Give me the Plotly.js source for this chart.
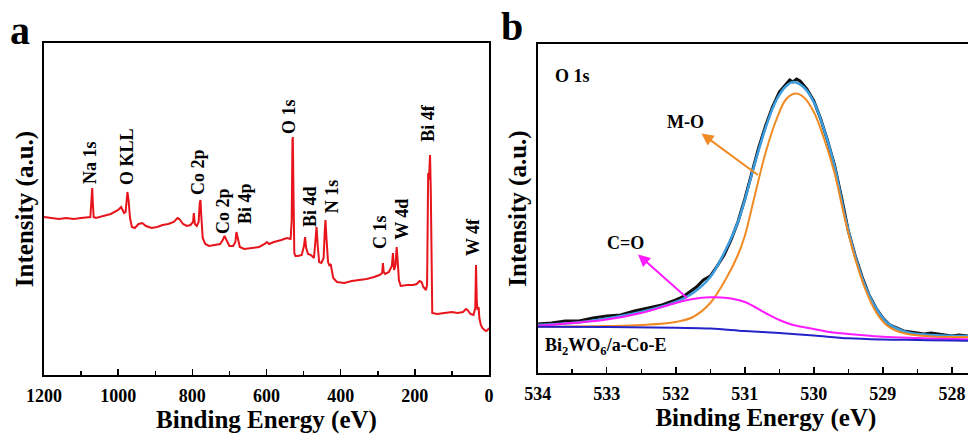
<!DOCTYPE html>
<html>
<head>
<meta charset="utf-8">
<script src="https://cdn.plot.ly/plotly-3.0.1.min.js"></script>
<style>
html,body{margin:0;padding:0;background:#fff;overflow:hidden;width:968px;height:437px;}
#chart{width:994px;height:437px;}
</style>
</head>
<body>
<div id="chart"></div>
<script>
// ---------- Panel a: XPS survey ----------
const surveyEnergy = [1200,1180,1160,1140,1120,1100,1085,1075,1072,1070,1068,1066,1060,1040,1020,1000,992,988,984,980,977,975,972,968,963,955,945,935,925,910,895,880,865,850,840,835,825,815,805,798,796,793,788,783,780,778,776,772,765,755,740,725,718,713,708,700,690,684,681,678,672,660,640,620,605,599,593,580,560,545,535,532,530,529,527,525,522,515,505,499,496,493,488,480,472,467,465,462,458,452,446,443,441,438,434,430,427,425,420,410,390,370,350,330,310,295,288,286,284,280,270,262,259,256,252,249,246,243,238,220,205,195,187,182,177,170,167,165,164,162,160,159,157,155,153,140,120,100,85,70,62,58,50,42,37,35,33,31,28,26,22,18,12,8,4,2,0];
const surveyIntensity = [158,157,156,157,156,157,158,158,175,187,170,158,157,159,161,165,168,165,162,163,180,183,175,157,148,147,151,152,149,147,148,150,151,153,157,156,151,149,150,153,162,151,149,153,172,175,160,137,131,129,130,131,135,139,135,129,129,133,143,137,128,126,127,128,131,133,131,133,135,137,136,155,235,238,175,122,119,119,120,129,138,127,121,120,117,140,148,130,113,112,117,143,155,135,113,109,111,107,97,93,92,94,95,96,98,100,102,112,103,101,103,109,122,105,110,128,113,95,89,90,90,91,94,93,88,85,90,195,202,195,217,220,185,85,62,61,62,63,62,63,66,65,61,60,67,110,75,65,68,57,50,47,45,44,45,47,47];

const peakNames = ["Na 1s","O KLL","Co 2p","Co 2p","Bi 4p","O 1s","Bi 4d","N 1s","C 1s","W 4d","Bi 4f","W 4f"];
const peakLabelEnergy = [1076,976,785,717,658,539,483,423,294,235,165,43];
const peakLabelHeight = [213,218,203,164,172,258,169,179,143,156,252,138];

// ---------- Panel b: O 1s high resolution ----------
const o1sRawEnergy = [534,533.8,533.6,533.4,533.2,533,532.8,532.6,532.4,532.2,532,531.9,531.8,531.7,531.6,531.5,531.4,531.3,531.2,531.1,531.0,530.9,530.8,530.7,530.6,530.5,530.4,530.35,530.3,530.25,530.2,530.1,530.0,529.9,529.8,529.7,529.6,529.5,529.4,529.3,529.2,529.1,529.0,528.9,528.8,528.7,528.6,528.4,528.3,528.2,528.0,527.9,527.76,527.6,527.4];
const o1sRaw = [49,50,52,52,55,57,58,62,65,68,73,76,81,86,93,97,107,118,133,151,174,199,225,247,266,281,289,293,291,294,292,284,272,254,232,208,176,142,117,96,78,65,55,48,45,42,41,39,40,39,37,38,37,37,36];

const envEnergy = [534,533.5,533,532.5,532,531.75,531.5,531.25,531.1,531,530.85,530.7,530.55,530.4,530.3,530.15,530,529.85,529.7,529.55,529.4,529.25,529.1,528.95,528.8,528.6,528.3,528,527.7,527.4];
const envelope = [48,50,54.5,61,71,80,96,127,151,173,211,245,272,287,291,286,271,243,207,157,117,86,65,51,44.5,40,38,37,37,36.5];

const moEnergy = [534,533,532.5,532,531.75,531.5,531.25,531.1,531,530.85,530.7,530.55,530.4,530.27,530.15,530,529.85,529.7,529.55,529.4,529.25,529.1,528.95,528.8,528.6,528.3,528,527.7,527.4];
const moFit = [46.3,47,48,51,56,70,97,118,137,179,220,252,274,279.5,276,261,234,200,154,114,83,61,48,42,38.5,36.5,36,36,36];

const coEnergy = [534,533.5,533,532.5,532,531.75,531.5,531.25,531,530.7,530.5,530.3,530,529.8,529.5,529,528.5,528,527.7,527.4];
const coFit = [47.3,50,53.5,60,70,74,75.7,75,71,60,53,48,44,41.3,39,36.3,35,34,33.7,33.5];

const bgEnergy = [534,533,532,531.5,531,530.5,530,529.5,529,528.5,528,527.7,527.4];
const background = [46.3,46,45.2,44.5,42,40,37.5,34.7,33.5,33,32.5,32.3,32.2];

const xTicksA = [1200,1000,800,600,400,200,0];
const xTicksB = [534,533,532,531,530,529,528];

// ---------- styles ----------
// The original figure is cropped on the right: panel b continues past the picture edge,
// so the plot is laid out slightly wider than the 968 px window and the overflow is hidden.
const W = 994, H = 437;
const SERIF = "Liberation Serif, Times New Roman, serif";
const boldFont = (size, color) => ({family: SERIF, size: size, color: color || "#000", weight: "bold"});
const ORANGE = "#f08a24", MAGENTA = "#ff1aff";

const traces = [
  {x: surveyEnergy, y: surveyIntensity, xaxis: "x", yaxis: "y", mode: "lines",
   line: {color: "#e8141c", width: 2}, hoverinfo: "skip"},
  {x: o1sRawEnergy, y: o1sRaw, xaxis: "x2", yaxis: "y2", mode: "lines",
   line: {color: "#111111", width: 3}, hoverinfo: "skip"},
  {x: envEnergy, y: envelope, xaxis: "x2", yaxis: "y2", mode: "lines",
   line: {color: "#3c9ee0", width: 2.5, shape: "spline"}, hoverinfo: "skip"},
  {x: moEnergy, y: moFit, xaxis: "x2", yaxis: "y2", mode: "lines",
   line: {color: ORANGE, width: 2, shape: "spline"}, hoverinfo: "skip"},
  {x: coEnergy, y: coFit, xaxis: "x2", yaxis: "y2", mode: "lines",
   line: {color: MAGENTA, width: 2, shape: "spline"}, hoverinfo: "skip"},
  {x: bgEnergy, y: background, xaxis: "x2", yaxis: "y2", mode: "lines",
   line: {color: "#2323c8", width: 2, shape: "spline"}, hoverinfo: "skip"}
];

const annotations = [];
peakNames.forEach((name, i) => {
  annotations.push({x: peakLabelEnergy[i], y: peakLabelHeight[i], xref: "x", yref: "y",
    text: name, textangle: -90, showarrow: false, font: boldFont(18),
    xanchor: "center", yanchor: "middle"});
});
annotations.push(
  {x: 533.5, y: 297, xref: "x2", yref: "y2", text: "O 1s", showarrow: false, font: boldFont(18)},
  {x: 530.81, y: 198, xref: "x2", yref: "y2", text: "M-O", font: boldFont(18),
   showarrow: true, ax: -72, ay: -53, arrowside: "start", arrowcolor: ORANGE, arrowwidth: 2,
   startarrowhead: 2, startarrowsize: 1.2, standoff: 0, startstandoff: 0},
  {x: 531.836, y: 75, xref: "x2", yref: "y2", text: "C=O", font: boldFont(18),
   showarrow: true, ax: -62, ay: -55, arrowside: "start", arrowcolor: MAGENTA, arrowwidth: 2,
   startarrowhead: 2, startarrowsize: 1.2, standoff: 0, startstandoff: 0},
  {x: 533.92, y: 27, xref: "x2", yref: "y2", text: "Bi<sub>2</sub>WO<sub>6</sub>/a-Co-E", showarrow: false,
   font: boldFont(18), xanchor: "left"},
  {x: 20/W, y: 1 - 30/H, xref: "paper", yref: "paper", text: "a", showarrow: false,
   font: boldFont(40), xanchor: "center", yanchor: "middle"},
  {x: 512/W, y: 1 - 26/H, xref: "paper", yref: "paper", text: "b", showarrow: false,
   font: boldFont(40), xanchor: "center", yanchor: "middle"}
);

const axisCommon = {
  showline: true, linecolor: "#000", linewidth: 2, showgrid: false, zeroline: false,
  ticks: "inside", ticklen: 6, tickwidth: 1.5, tickcolor: "#000",
  tickfont: boldFont(18), ticklabelstandoff: 3
};

const layout = {
  width: W, height: H,
  margin: {l: 0, r: 0, t: 0, b: 0},
  paper_bgcolor: "#fff", plot_bgcolor: "#fff",
  showlegend: false,
  xaxis: Object.assign({}, axisCommon, {
    domain: [44/W, 489/W], range: [1200, 0], autorange: false,
    tickmode: "array", tickvals: xTicksA, mirror: true,
    minor: {dtick: 100, ticks: "inside", ticklen: 4, tickcolor: "#000"},
    title: {text: "Binding Energy (eV)", font: boldFont(25), standoff: 5},
    anchor: "y"
  }),
  yaxis: Object.assign({}, axisCommon, {
    domain: [1 - 375/H, 1 - 43/H], range: [0, 332], autorange: false,
    showticklabels: false, ticks: "", mirror: true,
    title: {text: "Intensity (a.u.)", font: boldFont(25), standoff: 1},
    anchor: "x"
  }),
  xaxis2: Object.assign({}, axisCommon, {
    domain: [537.7/W, 1], range: [534, 527.39], autorange: false,
    tickmode: "array", tickvals: xTicksB, mirror: true,
    minor: {dtick: 0.5, ticks: "inside", ticklen: 4, tickcolor: "#000"},
    title: {text: "Binding Energy (eV)", font: boldFont(25), standoff: 5},
    anchor: "y2"
  }),
  yaxis2: Object.assign({}, axisCommon, {
    domain: [1 - 373/H, 1 - 44/H], range: [0, 329], autorange: false,
    showticklabels: false, ticks: "", mirror: true,
    title: {text: "Intensity (a.u.)", font: boldFont(25), standoff: 2},
    anchor: "x2"
  }),
  annotations: annotations
};

Plotly.newPlot("chart", traces, layout, {staticPlot: true, displayModeBar: false});
</script>
</body>
</html>
